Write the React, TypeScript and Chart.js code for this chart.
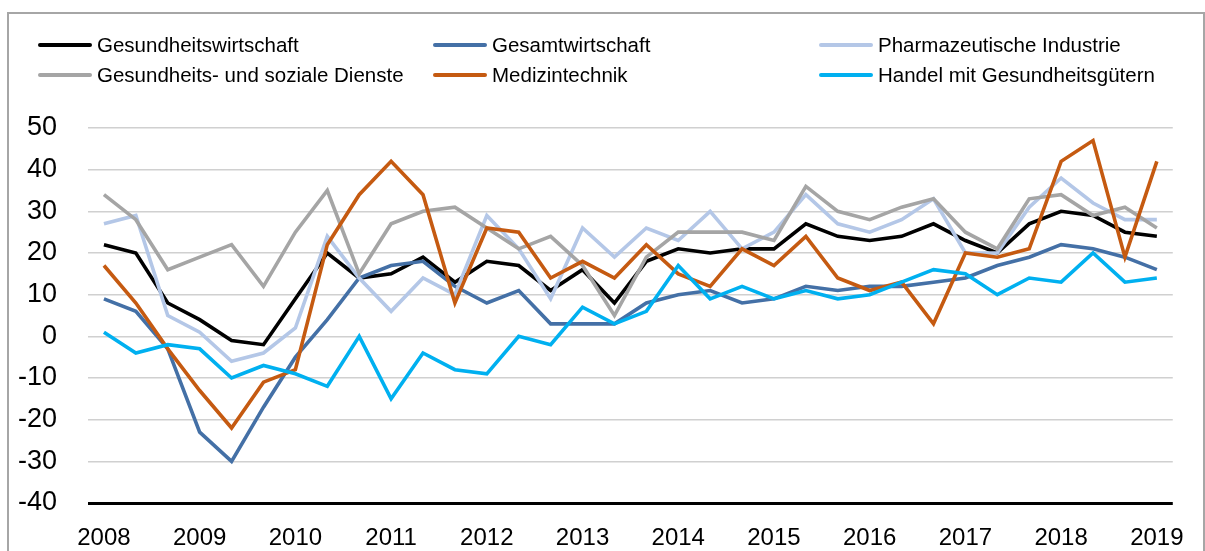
import React, { useEffect, useRef } from "react";
import { Chart, registerables } from "chart.js";

Chart.register(...registerables);

const years = ["2008","2009","2010","2011","2012","2013","2014","2015","2016","2017","2018","2019"];
const periods: string[] = [];
years.forEach((y) => {
  for (let t = 1; t <= 3; t++) {
    if (y === "2019" && t > 1) continue;
    periods.push(y + "-T" + t);
  }
});

const gesundheitswirtschaft = [22,20,8,4,-1,-2,9,20,14,15,19,13,18,17,11,16,8,18,21,20,21,21,27,24,23,24,27,23,20,27,30,29,25,24];
const gesamtwirtschaft = [9,6,-3,-23,-30,-17,-5,4,14,17,18,12,8,11,3,3,3,8,10,11,8,9,12,11,12,12,13,14,17,19,22,21,19,16];
const pharma = [27,29,5,1,-6,-4,2,24,14,6,14,10,29,21,9,26,19,26,23,30,21,25,34,27,25,28,33,20,20,31,38,32,28,28];
const sozialeDienste = [34,28,16,19,22,12,25,35,15,27,30,31,26,21,24,17,5,19,25,25,25,23,36,30,28,31,33,25,21,33,34,29,31,26];
const medizintechnik = [17,8,-3,-13,-22,-11,-8,22,34,42,34,8,26,25,14,18,14,22,15,12,21,17,24,14,11,13,3,20,19,21,42,47,19,42];
const handel = [1,-4,-2,-3,-10,-7,-9,-12,0,-15,-4,-8,-9,0,-2,7,3,6,17,9,12,9,11,9,10,13,16,15,10,14,13,20,13,14];

const seriesNames = [
  "Gesundheitswirtschaft",
  "Gesamtwirtschaft",
  "Pharmazeutische Industrie",
  "Gesundheits- und soziale Dienste",
  "Medizintechnik",
  "Handel mit Gesundheitsgütern",
];
const seriesData = [gesundheitswirtschaft, gesamtwirtschaft, pharma, sozialeDienste, medizintechnik, handel];
const seriesColors = ["#000000", "#4470a6", "#b4c7e7", "#a5a5a5", "#c55a11", "#00b0f0"];

// legend layout: row-major, 3 columns
const legendOrder = [0, 1, 2, 3, 4, 5];
const legendCols = [38, 433, 819];
const legendRows = [45, 75];

const FONT = "'Liberation Sans', Arial, sans-serif";

export default function App() {
  const canvasRef = useRef<HTMLCanvasElement | null>(null);

  useEffect(() => {
    if (!canvasRef.current) return;
    const chart = new Chart(canvasRef.current, {
      type: "line",
      data: {
        labels: periods,
        datasets: seriesData.map((d, i) => ({
          label: seriesNames[i],
          data: d,
          borderColor: seriesColors[i],
          backgroundColor: seriesColors[i],
          borderWidth: 3.6,
          pointRadius: 0,
          tension: 0,
          fill: false,
          order: 5 - i,
        })),
      },
      options: {
        responsive: false,
        animation: false,
        maintainAspectRatio: false,
        layout: { padding: { left: 0, right: 32, top: 128, bottom: 0 } },
        plugins: {
          legend: { display: false },
          tooltip: { enabled: false },
        },
        scales: {
          x: {
            type: "category",
            offset: true,
            grid: { display: false, drawTicks: false },
            border: { display: false },
            ticks: {
              autoSkip: false,
              maxRotation: 0,
              padding: 21,
              color: "#000",
              font: { family: FONT, size: 24 },
              callback: (_v: any, i: number) => (i % 3 === 0 ? periods[i].slice(0, 4) : ""),
            },
            afterFit: (scale: any) => {
              scale.height = 48;
            },
          },
          y: {
            min: -40,
            max: 50,
            ticks: {
              stepSize: 10,
              padding: 31,
              color: "#000",
              font: { family: FONT, size: 27 },
            },
            grid: {
              drawTicks: false,
              color: (ctx: any) => (ctx.tick && ctx.tick.value === -40 ? "#000000" : "#d0d0d0"),
              lineWidth: (ctx: any) => (ctx.tick && ctx.tick.value === -40 ? 3 : 1.5),
            },
            border: { display: false },
            afterFit: (scale: any) => {
              scale.width = 88;
            },
          },
        },
      },
    });
    return () => chart.destroy();
  }, []);

  return (
    <div
      style={{
        position: "fixed",
        left: 0,
        top: 0,
        width: 1205,
        height: 551,
        overflow: "hidden",
        background: "#fff",
      }}
    >
      <canvas ref={canvasRef} width={1205} height={551} style={{ position: "absolute", left: 0, top: 0 }} />
      <div
        style={{
          position: "absolute",
          left: 7,
          top: 12,
          width: 1194,
          height: 600,
          border: "2px solid #a6a6a6",
          pointerEvents: "none",
        }}
      />
      {legendOrder.map((si, k) => {
        const col = k % 3;
        const row = Math.floor(k / 3);
        const x = legendCols[col];
        const y = legendRows[row];
        return (
          <div
            key={si}
            style={{
              position: "absolute",
              left: x,
              top: y - 14,
              height: 28,
              display: "flex",
              alignItems: "center",
              whiteSpace: "nowrap",
            }}
          >
            <div style={{ width: 54, height: 4, background: seriesColors[si], borderRadius: 2 }} />
            <span style={{ marginLeft: 5, fontFamily: FONT, fontSize: 20.5, color: "#000", lineHeight: "28px" }}>
              {seriesNames[si]}
            </span>
          </div>
        );
      })}
    </div>
  );
}
